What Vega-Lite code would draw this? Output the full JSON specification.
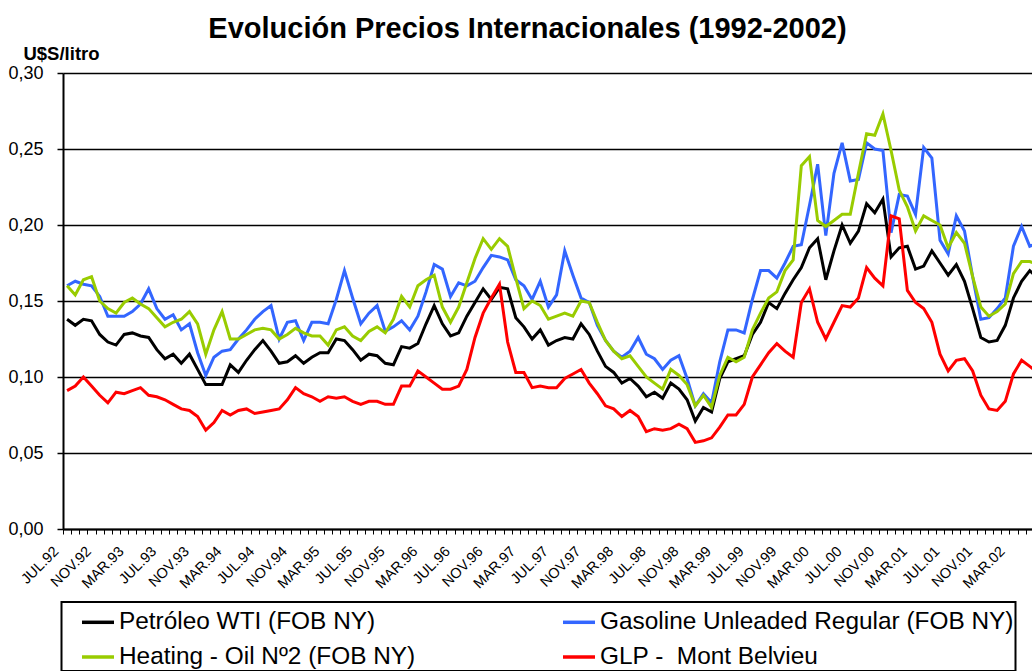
{
  "$schema": "https://vega.github.io/schema/vega-lite/v6.json",
  "width": 979,
  "height": 456,
  "autosize": {"type": "none"},
  "padding": {"left": 63, "top": 73, "right": 0, "bottom": 142},
  "background": "white",
  "config": {"font": "Liberation Sans", "view": {"stroke": null}, "legend": {"strokeWidth": 2}},
  "title": {
    "text": "Evolución Precios Internacionales (1992-2002)",
    "font": "Liberation Sans",
    "fontSize": 29,
    "fontWeight": "bold",
    "color": "black",
    "anchor": "middle",
    "dx": -25,
    "offset": 0
  },
  "data": {
    "values": [
      {"mes": "JUL.92", "wti": 0.138, "gas": 0.160, "ho": 0.160, "glp": 0.091},
      {"mes": "AGO.92", "wti": 0.134, "gas": 0.163, "ho": 0.154, "glp": 0.094},
      {"mes": "SEP.92", "wti": 0.138, "gas": 0.161, "ho": 0.164, "glp": 0.100},
      {"mes": "OCT.92", "wti": 0.137, "gas": 0.160, "ho": 0.166, "glp": 0.094},
      {"mes": "NOV.92", "wti": 0.128, "gas": 0.153, "ho": 0.150, "glp": 0.088},
      {"mes": "DIC.92", "wti": 0.123, "gas": 0.140, "ho": 0.145, "glp": 0.083},
      {"mes": "ENE.93", "wti": 0.121, "gas": 0.140, "ho": 0.142, "glp": 0.090},
      {"mes": "FEB.93", "wti": 0.128, "gas": 0.140, "ho": 0.149, "glp": 0.089},
      {"mes": "MAR.93", "wti": 0.129, "gas": 0.143, "ho": 0.152, "glp": 0.091},
      {"mes": "ABR.93", "wti": 0.127, "gas": 0.148, "ho": 0.148, "glp": 0.093},
      {"mes": "MAY.93", "wti": 0.126, "gas": 0.158, "ho": 0.145, "glp": 0.088},
      {"mes": "JUN.93", "wti": 0.118, "gas": 0.145, "ho": 0.139, "glp": 0.087},
      {"mes": "JUL.93", "wti": 0.112, "gas": 0.138, "ho": 0.133, "glp": 0.085},
      {"mes": "AGO.93", "wti": 0.115, "gas": 0.141, "ho": 0.136, "glp": 0.082},
      {"mes": "SEP.93", "wti": 0.109, "gas": 0.131, "ho": 0.138, "glp": 0.079},
      {"mes": "OCT.93", "wti": 0.115, "gas": 0.135, "ho": 0.143, "glp": 0.078},
      {"mes": "NOV.93", "wti": 0.105, "gas": 0.116, "ho": 0.135, "glp": 0.074},
      {"mes": "DIC.93", "wti": 0.095, "gas": 0.101, "ho": 0.115, "glp": 0.065},
      {"mes": "ENE.94", "wti": 0.095, "gas": 0.113, "ho": 0.131, "glp": 0.070},
      {"mes": "FEB.94", "wti": 0.095, "gas": 0.117, "ho": 0.143, "glp": 0.078},
      {"mes": "MAR.94", "wti": 0.108, "gas": 0.118, "ho": 0.125, "glp": 0.075},
      {"mes": "ABR.94", "wti": 0.103, "gas": 0.125, "ho": 0.125, "glp": 0.078},
      {"mes": "MAY.94", "wti": 0.111, "gas": 0.131, "ho": 0.128, "glp": 0.079},
      {"mes": "JUN.94", "wti": 0.118, "gas": 0.138, "ho": 0.131, "glp": 0.076},
      {"mes": "JUL.94", "wti": 0.124, "gas": 0.143, "ho": 0.132, "glp": 0.077},
      {"mes": "AGO.94", "wti": 0.117, "gas": 0.147, "ho": 0.131, "glp": 0.078},
      {"mes": "SEP.94", "wti": 0.109, "gas": 0.125, "ho": 0.125, "glp": 0.079},
      {"mes": "OCT.94", "wti": 0.110, "gas": 0.136, "ho": 0.128, "glp": 0.085},
      {"mes": "NOV.94", "wti": 0.114, "gas": 0.137, "ho": 0.132, "glp": 0.093},
      {"mes": "DIC.94", "wti": 0.109, "gas": 0.124, "ho": 0.129, "glp": 0.089},
      {"mes": "ENE.95", "wti": 0.113, "gas": 0.136, "ho": 0.127, "glp": 0.087},
      {"mes": "FEB.95", "wti": 0.116, "gas": 0.136, "ho": 0.127, "glp": 0.084},
      {"mes": "MAR.95", "wti": 0.116, "gas": 0.135, "ho": 0.121, "glp": 0.087},
      {"mes": "ABR.95", "wti": 0.125, "gas": 0.151, "ho": 0.131, "glp": 0.086},
      {"mes": "MAY.95", "wti": 0.124, "gas": 0.170, "ho": 0.133, "glp": 0.087},
      {"mes": "JUN.95", "wti": 0.118, "gas": 0.152, "ho": 0.127, "glp": 0.084},
      {"mes": "JUL.95", "wti": 0.111, "gas": 0.135, "ho": 0.124, "glp": 0.082},
      {"mes": "AGO.95", "wti": 0.115, "gas": 0.142, "ho": 0.130, "glp": 0.084},
      {"mes": "SEP.95", "wti": 0.114, "gas": 0.147, "ho": 0.133, "glp": 0.084},
      {"mes": "OCT.95", "wti": 0.109, "gas": 0.130, "ho": 0.129, "glp": 0.082},
      {"mes": "NOV.95", "wti": 0.108, "gas": 0.133, "ho": 0.138, "glp": 0.082},
      {"mes": "DIC.95", "wti": 0.120, "gas": 0.137, "ho": 0.153, "glp": 0.094},
      {"mes": "ENE.96", "wti": 0.119, "gas": 0.131, "ho": 0.146, "glp": 0.094},
      {"mes": "FEB.96", "wti": 0.122, "gas": 0.140, "ho": 0.160, "glp": 0.104},
      {"mes": "MAR.96", "wti": 0.135, "gas": 0.156, "ho": 0.164, "glp": 0.100},
      {"mes": "ABR.96", "wti": 0.147, "gas": 0.174, "ho": 0.167, "glp": 0.096},
      {"mes": "MAY.96", "wti": 0.135, "gas": 0.171, "ho": 0.146, "glp": 0.092},
      {"mes": "JUN.96", "wti": 0.127, "gas": 0.153, "ho": 0.136, "glp": 0.092},
      {"mes": "JUL.96", "wti": 0.129, "gas": 0.162, "ho": 0.146, "glp": 0.094},
      {"mes": "AGO.96", "wti": 0.140, "gas": 0.160, "ho": 0.162, "glp": 0.105},
      {"mes": "SEP.96", "wti": 0.149, "gas": 0.163, "ho": 0.178, "glp": 0.126},
      {"mes": "OCT.96", "wti": 0.158, "gas": 0.172, "ho": 0.191, "glp": 0.142},
      {"mes": "NOV.96", "wti": 0.151, "gas": 0.180, "ho": 0.184, "glp": 0.152},
      {"mes": "DIC.96", "wti": 0.159, "gas": 0.179, "ho": 0.191, "glp": 0.161},
      {"mes": "ENE.97", "wti": 0.158, "gas": 0.177, "ho": 0.186, "glp": 0.123},
      {"mes": "FEB.97", "wti": 0.139, "gas": 0.164, "ho": 0.165, "glp": 0.103},
      {"mes": "MAR.97", "wti": 0.133, "gas": 0.160, "ho": 0.145, "glp": 0.103},
      {"mes": "ABR.97", "wti": 0.125, "gas": 0.151, "ho": 0.150, "glp": 0.093},
      {"mes": "MAY.97", "wti": 0.131, "gas": 0.163, "ho": 0.147, "glp": 0.094},
      {"mes": "JUN.97", "wti": 0.121, "gas": 0.146, "ho": 0.138, "glp": 0.093},
      {"mes": "JUL.97", "wti": 0.124, "gas": 0.154, "ho": 0.140, "glp": 0.093},
      {"mes": "AGO.97", "wti": 0.126, "gas": 0.183, "ho": 0.142, "glp": 0.099},
      {"mes": "SEP.97", "wti": 0.125, "gas": 0.167, "ho": 0.140, "glp": 0.102},
      {"mes": "OCT.97", "wti": 0.135, "gas": 0.152, "ho": 0.150, "glp": 0.105},
      {"mes": "NOV.97", "wti": 0.128, "gas": 0.149, "ho": 0.149, "glp": 0.096},
      {"mes": "DIC.97", "wti": 0.117, "gas": 0.134, "ho": 0.136, "glp": 0.089},
      {"mes": "ENE.98", "wti": 0.107, "gas": 0.124, "ho": 0.124, "glp": 0.081},
      {"mes": "FEB.98", "wti": 0.103, "gas": 0.117, "ho": 0.117, "glp": 0.079},
      {"mes": "MAR.98", "wti": 0.096, "gas": 0.113, "ho": 0.112, "glp": 0.074},
      {"mes": "ABR.98", "wti": 0.099, "gas": 0.117, "ho": 0.114, "glp": 0.078},
      {"mes": "MAY.98", "wti": 0.094, "gas": 0.126, "ho": 0.107, "glp": 0.074},
      {"mes": "JUN.98", "wti": 0.087, "gas": 0.115, "ho": 0.100, "glp": 0.064},
      {"mes": "JUL.98", "wti": 0.090, "gas": 0.112, "ho": 0.096, "glp": 0.066},
      {"mes": "AGO.98", "wti": 0.086, "gas": 0.105, "ho": 0.092, "glp": 0.065},
      {"mes": "SEP.98", "wti": 0.096, "gas": 0.111, "ho": 0.105, "glp": 0.066},
      {"mes": "OCT.98", "wti": 0.092, "gas": 0.114, "ho": 0.101, "glp": 0.069},
      {"mes": "NOV.98", "wti": 0.085, "gas": 0.099, "ho": 0.095, "glp": 0.066},
      {"mes": "DIC.98", "wti": 0.071, "gas": 0.081, "ho": 0.081, "glp": 0.057},
      {"mes": "ENE.99", "wti": 0.080, "gas": 0.089, "ho": 0.088, "glp": 0.058},
      {"mes": "FEB.99", "wti": 0.077, "gas": 0.083, "ho": 0.080, "glp": 0.060},
      {"mes": "MAR.99", "wti": 0.099, "gas": 0.110, "ho": 0.101, "glp": 0.067},
      {"mes": "ABR.99", "wti": 0.110, "gas": 0.131, "ho": 0.113, "glp": 0.075},
      {"mes": "MAY.99", "wti": 0.112, "gas": 0.131, "ho": 0.110, "glp": 0.075},
      {"mes": "JUN.99", "wti": 0.114, "gas": 0.129, "ho": 0.113, "glp": 0.082},
      {"mes": "JUL.99", "wti": 0.128, "gas": 0.151, "ho": 0.131, "glp": 0.100},
      {"mes": "AGO.99", "wti": 0.136, "gas": 0.170, "ho": 0.142, "glp": 0.108},
      {"mes": "SEP.99", "wti": 0.149, "gas": 0.170, "ho": 0.152, "glp": 0.116},
      {"mes": "OCT.99", "wti": 0.145, "gas": 0.165, "ho": 0.156, "glp": 0.122},
      {"mes": "NOV.99", "wti": 0.155, "gas": 0.175, "ho": 0.170, "glp": 0.117},
      {"mes": "DIC.99", "wti": 0.164, "gas": 0.186, "ho": 0.177, "glp": 0.113},
      {"mes": "ENE.00", "wti": 0.172, "gas": 0.187, "ho": 0.239, "glp": 0.149},
      {"mes": "FEB.00", "wti": 0.185, "gas": 0.213, "ho": 0.245, "glp": 0.158},
      {"mes": "MAR.00", "wti": 0.191, "gas": 0.240, "ho": 0.203, "glp": 0.136},
      {"mes": "ABR.00", "wti": 0.164, "gas": 0.193, "ho": 0.199, "glp": 0.125},
      {"mes": "MAY.00", "wti": 0.183, "gas": 0.234, "ho": 0.203, "glp": 0.136},
      {"mes": "JUN.00", "wti": 0.200, "gas": 0.254, "ho": 0.207, "glp": 0.147},
      {"mes": "JUL.00", "wti": 0.188, "gas": 0.229, "ho": 0.207, "glp": 0.146},
      {"mes": "AGO.00", "wti": 0.196, "gas": 0.230, "ho": 0.234, "glp": 0.152},
      {"mes": "SEP.00", "wti": 0.214, "gas": 0.254, "ho": 0.260, "glp": 0.172},
      {"mes": "OCT.00", "wti": 0.208, "gas": 0.250, "ho": 0.259, "glp": 0.165},
      {"mes": "NOV.00", "wti": 0.217, "gas": 0.249, "ho": 0.273, "glp": 0.160},
      {"mes": "DIC.00", "wti": 0.179, "gas": 0.195, "ho": 0.249, "glp": 0.206},
      {"mes": "ENE.01", "wti": 0.185, "gas": 0.220, "ho": 0.223, "glp": 0.204},
      {"mes": "FEB.01", "wti": 0.186, "gas": 0.219, "ho": 0.212, "glp": 0.157},
      {"mes": "MAR.01", "wti": 0.171, "gas": 0.207, "ho": 0.196, "glp": 0.149},
      {"mes": "ABR.01", "wti": 0.173, "gas": 0.251, "ho": 0.206, "glp": 0.145},
      {"mes": "MAY.01", "wti": 0.183, "gas": 0.244, "ho": 0.203, "glp": 0.136},
      {"mes": "JUN.01", "wti": 0.175, "gas": 0.190, "ho": 0.200, "glp": 0.115},
      {"mes": "JUL.01", "wti": 0.167, "gas": 0.181, "ho": 0.185, "glp": 0.104},
      {"mes": "AGO.01", "wti": 0.174, "gas": 0.206, "ho": 0.195, "glp": 0.111},
      {"mes": "SEP.01", "wti": 0.163, "gas": 0.196, "ho": 0.188, "glp": 0.112},
      {"mes": "OCT.01", "wti": 0.145, "gas": 0.166, "ho": 0.166, "glp": 0.104},
      {"mes": "NOV.01", "wti": 0.126, "gas": 0.138, "ho": 0.146, "glp": 0.088},
      {"mes": "DIC.01", "wti": 0.123, "gas": 0.139, "ho": 0.140, "glp": 0.079},
      {"mes": "ENE.02", "wti": 0.124, "gas": 0.145, "ho": 0.143, "glp": 0.078},
      {"mes": "FEB.02", "wti": 0.134, "gas": 0.152, "ho": 0.148, "glp": 0.084},
      {"mes": "MAR.02", "wti": 0.152, "gas": 0.186, "ho": 0.168, "glp": 0.102},
      {"mes": "ABR.02", "wti": 0.163, "gas": 0.199, "ho": 0.176, "glp": 0.111},
      {"mes": "MAY.02", "wti": 0.170, "gas": 0.186, "ho": 0.176, "glp": 0.107},
      {"mes": "JUN.02", "wti": 0.165, "gas": 0.188, "ho": 0.174, "glp": 0.103}
    ]
  },
  "transform": [{"fold": ["wti", "gas", "ho", "glp"], "as": ["serie", "valor"]}],
  "mark": {"type": "line", "strokeWidth": 3},
  "encoding": {
    "x": {
      "field": "mes",
      "type": "ordinal",
      "sort": null,
      "bandPosition": 0.5,
      "scale": {"type": "band", "paddingInner": 0, "paddingOuter": 0},
      "axis": {
        "title": null,
        "labelExpr": "indexof(['JUL','NOV','MAR'], slice(datum.label,0,3)) >= 0 ? datum.label : ''",
        "labelAngle": -45,
        "labelAlign": "right",
        "labelBaseline": "middle",
        "labelFont": "Liberation Sans",
        "labelFontSize": 14.5,
        "labelColor": "black",
        "labelOverlap": false,
        "labelPadding": 15,
        "labelOffset": -11,
        "labelBound": false,
        "tickBand": "extent",
        "tickSize": 5,
        "tickColor": "black",
        "tickWidth": 1,
        "domainColor": "black",
        "domainWidth": 2,
        "grid": false
      }
    },
    "y": {
      "field": "valor",
      "type": "quantitative",
      "scale": {"domain": [0, 0.3], "nice": false, "zero": true},
      "axis": {
        "values": [0, 0.05, 0.1, 0.15, 0.2, 0.25, 0.3],
        "labelExpr": "replace(format(datum.value, '.2f'), '.', ',')",
        "labelFont": "Liberation Sans",
        "labelFontSize": 18,
        "labelColor": "black",
        "labelPadding": 14,
        "tickSize": 6,
        "tickColor": "black",
        "tickWidth": 1.5,
        "domainColor": "black",
        "domainWidth": 2,
        "grid": true,
        "gridColor": "black",
        "gridWidth": 1.5,
        "gridOpacity": 1,
        "title": "U$S/litro",
        "titleFont": "Liberation Sans",
        "titleFontSize": 18.5,
        "titleFontWeight": "bold",
        "titleColor": "black",
        "titleAngle": 0,
        "titleAlign": "center",
        "titleBaseline": "alphabetic",
        "titleX": -2,
        "titleY": -14
      }
    },
    "color": {
      "field": "serie",
      "type": "nominal",
      "scale": {
        "domain": ["wti", "gas", "ho", "glp"],
        "range": ["#000000", "#3366FF", "#99CC00", "#FF0000"]
      },
      "legend": {
        "orient": "none",
        "legendX": -1.5,
        "legendY": 529,
        "direction": "horizontal",
        "columns": 2,
        "title": null,
        "labelExpr": "datum.label == 'wti' ? 'Petróleo WTI (FOB NY)' : datum.label == 'gas' ? 'Gasoline Unleaded Regular (FOB NY)' : datum.label == 'ho' ? 'Heating - Oil Nº2 (FOB NY)' : 'GLP -\u00a0 Mont Belvieu'",
        "labelFont": "Liberation Sans",
        "labelFontSize": 24.4,
        "labelColor": "black",
        "labelLimit": 800,
        "symbolType": "stroke",
        "symbolSize": 1024,
        "symbolStrokeWidth": 3.5,
        "symbolOffset": 16.5,
        "labelOffset": 3,
        "strokeColor": "black",
        "padding": 2,
        "rowPadding": 5,
        "columnPadding": 129
      }
    }
  }
}
